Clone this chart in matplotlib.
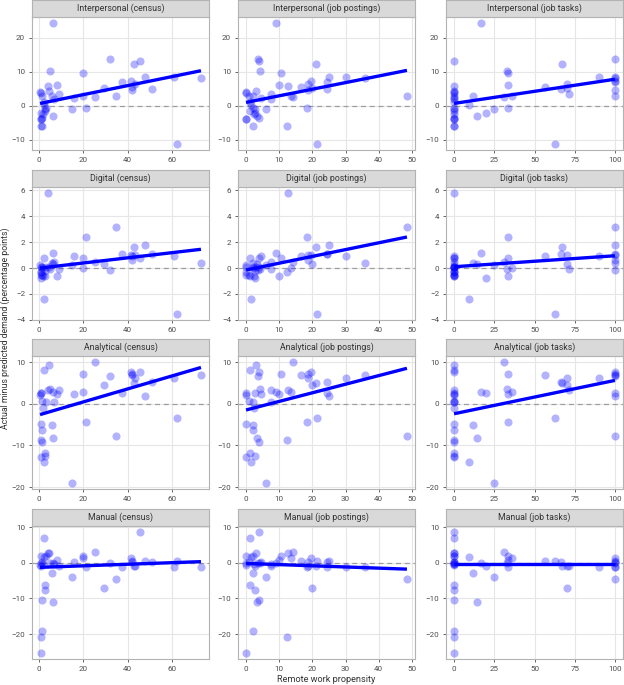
import numpy as np
import matplotlib
matplotlib.use("Agg")
import matplotlib.pyplot as plt

# one entry per occupation, same order in every array
census_x = [14.7, 15.6, 19.7, 20.0, 21.0, 25.3, 29.3, 32.0, 34.5, 37.5, 41.3, 41.8, 42.0, 43.0, 43.5,
            45.5, 47.8, 51.0, 60.7, 62.3, 73.0,
            2.3, 5.8, 6.2, 6.5, 1.0, 5.0, 8.0, 9.0,
            1.0, 1.0, 1.5, 1.2, 2.8, 2.8, 2.5, 4.3, 4.5, 0.5, 0.8, 1.3, 1.0, 1.8, 7.0, 3.0]
postings_x = [6.0, 4.5, 10.5, 13.5, 18.3, 14.3, 20.0, 3.5, 48.5, 24.4, 19.5, 18.8, 16.7, 21.0, 18.7,
              3.8, 25.0, 24.5, 30.0, 21.3, 36.0,
              1.5, 2.0, 3.2, 9.0, 2.7, 4.3, 9.8, 7.5,
              0.0, 12.3, 2.0, 3.8, 1.3, 2.8, 1.3, 12.5, 3.0, 0.0, 0.0, 1.0, 0.0, 2.5, 7.5, 2.2]
tasks_x = [25, 0, 33.5, 36, 33.5, 31, 70, 100, 100, 100, 100, 100, 56.5, 67, 70,
           0, 100, 66.5, 90, 62.5, 100,
           9.5, 12, 14, 17, 20, 33, 33.5, 71.5,
           0, 0, 0, 0, 0, 0, 0, 0, 0, 0, 0, 0, 0, 0, 0, 0]

interpersonal = [-0.8, 2.2, 9.5, 2.8, -0.6, 2.5, 5.3, 13.7, 3.0, 7.0, 7.4, 4.6, 5.5, 12.3, 6.5,
                 13.2, 8.5, 4.9, 8.4, -11.2, 8.2,
                 0.2, 3.0, -2.9, 24.3, -2.0, 10.2, 6.1, 3.5,
                 -4.0, -6.0, -5.8, -3.5, -1.5, -1.0, 1.0, 5.8, 4.4, 4.0, 3.8, 3.0, -4.0, -2.5, 2.0, -0.5]
digital = [0.2, 0.9, 0.8, 0.0, 2.4, 0.5, 0.3, -0.15, 3.2, 1.1, 1.0, 0.65, 0.9, 1.65, 1.0,
           0.8, 1.75, 1.05, 0.9, -3.55, 0.4,
           -2.4, 0.4, 0.35, 1.2, -0.75, -0.1, -0.6, -0.1,
           -0.5, -0.3, 0.0, 0.1, -0.6, -0.2, 0.75, 5.8, 0.1, 0.2, 0.1, -0.5, -0.3, -0.6, 0.5, 0.1]
analytical = [-19.0, 2.4, 7.1, 2.7, -4.3, 10.0, 4.5, 6.6, -7.8, 2.6, 7.5, 7.1, 6.9, 5.0, 6.2,
              7.7, 1.8, 5.3, 6.1, -3.5, 6.8,
              -14.0, -5.2, -8.2, 2.8, 2.5, 3.6, 2.3, 3.4,
              -12.7, -8.8, -6.4, -9.2, -11.8, -12.5, 8.0, 3.2, 9.4, 2.0, 2.5, 0.7, -4.8, -1.0, 0.5, 0.5]
manual = [-4.0, 0.2, 2.0, 1.2, -1.3, 2.9, -7.2, 0.0, -4.7, -1.1, 1.2, 0.3, 0.5, -0.8, -1.0,
          8.6, 0.5, 0.2, -1.2, 0.5, -1.3,
          1.6, -3.0, -11.1, 0.0, -0.8, 0.0, 0.7, -1.0,
          -25.3, -20.8, -19.2, -10.4, -6.3, -7.6, 6.8, 2.8, 2.8, -0.5, 2.0, 0.3, 0.0, -0.3, -0.3, 1.8]

# fitted (weighted) trend lines, value at the smallest and largest x of each panel
# rows: interpersonal, digital, analytical, manual; cols: census, job postings, job tasks
fit_start = [[0.7, 1.0, 0.7],
             [0.0, -0.15, 0.1],
             [-2.6, -1.5, -2.4],
             [-1.3, -0.2, -0.4]]
fit_end = [[10.3, 10.4, 7.8],
           [1.45, 2.4, 0.95],
           [8.7, 8.5, 5.6],
           [0.3, -1.8, -0.4]]

skills = ["Interpersonal", "Digital", "Analytical", "Manual"]
measures = ["census", "job postings", "job tasks"]
xs = [census_x, postings_x, tasks_x]
ys = [interpersonal, digital, analytical, manual]
xticks = [[0, 20, 40, 60], [0, 10, 20, 30, 40, 50], [0, 25, 50, 75, 100]]
yticks = [[-10, 0, 10, 20], [-4, -2, 0, 2, 4, 6], [-20, -10, 0, 10], [-20, -10, 0, 10]]

W, H = 624, 685
plt.rcParams['font.family'] = ['Roboto', 'DejaVu Sans']
fig = plt.figure(figsize=(W / 100, H / 100), dpi=100)

col_left = [32, 238, 446]
col_w = 177
strip_top = [0, 170, 339, 509]
strip_h = 17
panel_h = 133

def lims(v):
    lo, hi = min(v), max(v)
    pad = (hi - lo) * 0.05
    return lo - pad, hi + pad

for r in range(4):
    y = np.array(ys[r])
    for c in range(3):
        x = np.array(xs[c])
        left = col_left[c] / W
        bottom = 1 - (strip_top[r] + strip_h + panel_h) / H
        ax = fig.add_axes([left, bottom, col_w / W, panel_h / H])
        ax.set_facecolor("white")
        ax.grid(True, color="#e6e6e6", lw=0.8)
        ax.set_axisbelow(True)
        ax.axhline(0, color="#9e9e9e", lw=0.9, ls=(0, (4, 3)), zorder=1)
        ax.scatter(x, y, s=34, color="#0000ff", alpha=0.3, lw=0, zorder=2)
        ax.plot([x.min(), x.max()], [fit_start[r][c], fit_end[r][c]],
                color="#0000ff", lw=2.4, solid_capstyle="butt", zorder=3)
        ax.set_xlim(*lims(x))
        ax.set_ylim(*lims(y))
        ax.set_xticks(xticks[c])
        ax.set_yticks(yticks[r])
        ax.tick_params(labelsize=5.8, colors="#4d4d4d", length=2.5, width=0.6, pad=2.5)
        for s in ax.spines.values():
            s.set_color("#b3b3b3")
            s.set_linewidth(0.8)

        sax = fig.add_axes([left, 1 - (strip_top[r] + strip_h) / H, col_w / W, strip_h / H])
        sax.set_facecolor("#d9d9d9")
        sax.set_xticks([])
        sax.set_yticks([])
        for s in sax.spines.values():
            s.set_color("#b3b3b3")
            s.set_linewidth(0.8)
        sax.text(0.5, 0.5, f"{skills[r]} ({measures[c]})", ha="center", va="center",
                 fontsize=6.3, color="#333333", transform=sax.transAxes)

fig.text((col_left[1] + col_w / 2) / W, 1 - 680 / H,
         "Remote work propensity", ha="center", va="center", fontsize=6.6, color="#333333")
fig.text(5 / W, 1 - 328 / H, "Actual minus predicted demand (percentage points)",
         rotation=90, ha="center", va="center", fontsize=6.3, color="#333333")

fig.savefig("out.png", dpi=100)
